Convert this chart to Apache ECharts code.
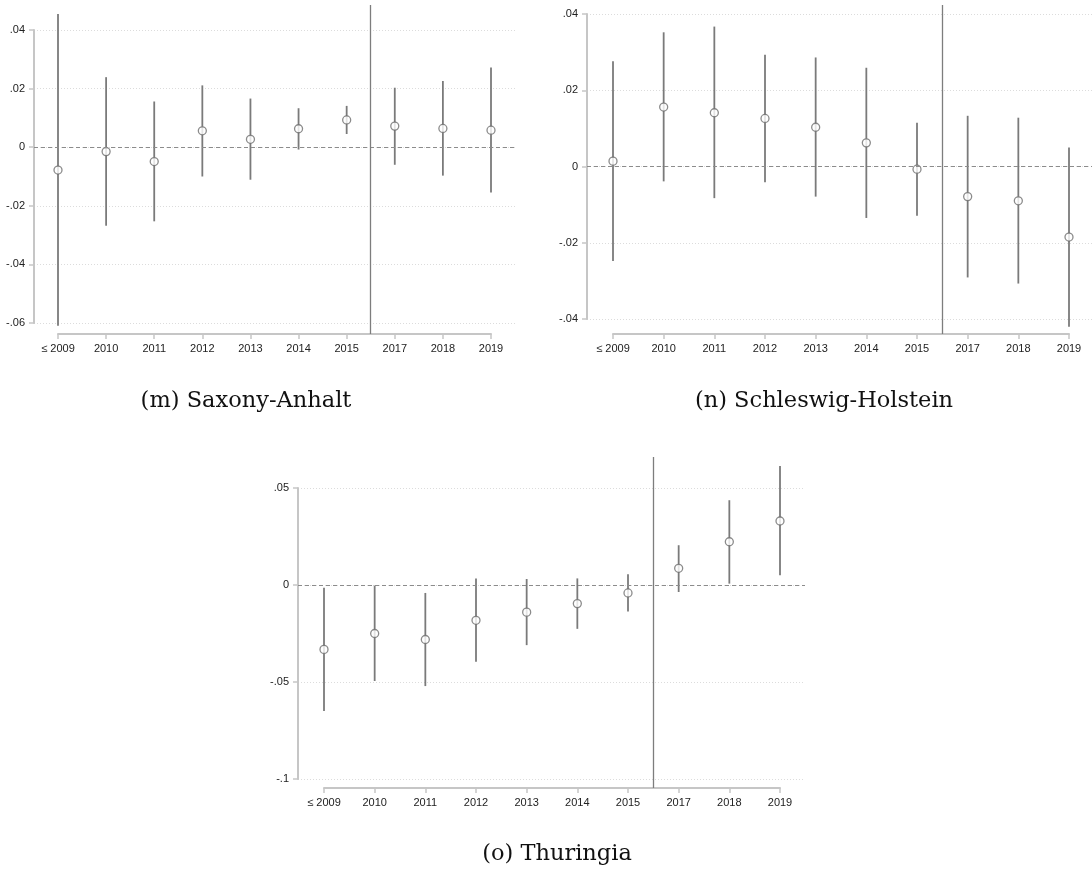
<!DOCTYPE html>
<html>
<head>
<meta charset="utf-8">
<script src="https://cdn.jsdelivr.net/npm/echarts@6/dist/echarts.min.js"></script>
<style>
  html, body { margin: 0; padding: 0; background: #fff; }
  #chart { width: 1092px; height: 870px; }
</style>
</head>
<body>
<div id="chart"></div>
<script>
// categories (2016 is the reference year, left out)
var categories = ['≤ 2009', '2010', '2011', '2012', '2013', '2014', '2015', '2017', '2018', '2019'];

// (m) Saxony-Anhalt
var saxEst = [-0.0078, -0.0015, -0.0049, 0.0056, 0.0027, 0.0063, 0.0093, 0.0072, 0.0064, 0.0058];
var saxLo  = [-0.0609, -0.0268, -0.0253, -0.0100, -0.0111, -0.0008, 0.0045, -0.0060, -0.0097, -0.0155];
var saxHi  = [0.0455, 0.0239, 0.0156, 0.0211, 0.0166, 0.0133, 0.0141, 0.0203, 0.0226, 0.0272];
var saxTicks = [-0.06, 0.04, 0.02]; // min, max, step

// (n) Schleswig-Holstein
var shEst = [0.0014, 0.0156, 0.0141, 0.0126, 0.0103, 0.0062, -0.0007, -0.0079, -0.0090, -0.0185];
var shLo  = [-0.0248, -0.0039, -0.0083, -0.0041, -0.0079, -0.0135, -0.0129, -0.0291, -0.0307, -0.0420];
var shHi  = [0.0276, 0.0352, 0.0367, 0.0293, 0.0286, 0.0259, 0.0115, 0.0133, 0.0128, 0.0050];
var shTicks = [-0.04, 0.04, 0.02];

// (o) Thuringia
var thEst = [-0.0332, -0.0250, -0.0281, -0.0182, -0.0140, -0.0096, -0.0041, 0.0086, 0.0223, 0.0330];
var thLo  = [-0.0649, -0.0495, -0.0521, -0.0396, -0.0310, -0.0226, -0.0137, -0.0036, 0.0007, 0.0050];
var thHi  = [-0.0014, -0.0003, -0.0041, 0.0033, 0.0031, 0.0034, 0.0055, 0.0205, 0.0437, 0.0613];
var thTicks = [-0.1, 0.05, 0.05];

var refLine = 6.5; // between 2015 and 2017

// pixel layout of each panel
var panels = [
  { title: '(m) Saxony-Anhalt', est: saxEst, lo: saxLo, hi: saxHi, ticks: saxTicks,
    axisLeft: 34, catFirst: 58, catLast: 491, right: 517, top: 5, axisY: 334, tickTopY: 30, tickBotY: 323,
    capX: 246, capY: 401 },
  { title: '(n) Schleswig-Holstein', est: shEst, lo: shLo, hi: shHi, ticks: shTicks,
    axisLeft: 587, catFirst: 613, catLast: 1069, right: 1094, top: 5, axisY: 334, tickTopY: 14, tickBotY: 319,
    capX: 824, capY: 401 },
  { title: '(o) Thuringia', est: thEst, lo: thLo, hi: thHi, ticks: thTicks,
    axisLeft: 298, catFirst: 324, catLast: 780, right: 805, top: 457, axisY: 788, tickTopY: 488, tickBotY: 779,
    capX: 557, capY: 854 }
];

var axisGray = '#c6c6c6';
var barGray = '#7a7a7a';
var labelFont = 'Liberation Sans';

function stataLabel(v) {
  if (Math.abs(v) < 1e-9) return '0';
  return String(parseFloat(v.toFixed(4))).replace('0.', '.');
}

var grids = [], xAxes = [], yAxes = [], series = [], graphics = [];

panels.forEach(function (p, k) {
  var lo = p.ticks[0], hi = p.ticks[1], step = p.ticks[2];
  var pxPerUnit = (p.tickBotY - p.tickTopY) / (hi - lo);
  var yMax = hi + (p.tickTopY - p.top) / pxPerUnit;
  var yMin = lo - (p.axisY - p.tickBotY) / pxPerUnit;

  // grid for the y axis and its gridlines
  var gy = grids.length;
  grids.push({ left: p.axisLeft, top: p.tickTopY, width: p.right - p.axisLeft,
    height: p.tickBotY - p.tickTopY, outerBoundsMode: 'none' });
  xAxes.push({ gridIndex: gy, type: 'value', min: 0, max: 1, show: false });
  yAxes.push({
    gridIndex: gy, type: 'value', min: lo, max: hi, interval: step,
    axisLine: { show: true, onZero: false, lineStyle: { color: axisGray, width: 2 } },
    axisTick: { show: true, length: 5, lineStyle: { color: axisGray, width: 1.5 } },
    axisLabel: { margin: 9, color: '#222', fontSize: 11, fontFamily: labelFont, formatter: stataLabel },
    splitLine: { show: true, lineStyle: { color: '#dcdcdc', width: 1, type: [1, 2] } }
  });
  series.push({
    type: 'line', xAxisIndex: xAxes.length - 1, yAxisIndex: yAxes.length - 1, data: [],
    markLine: { silent: true, symbol: 'none', label: { show: false },
      lineStyle: { color: '#8c8c8c', width: 1.2, type: [4, 3] },
      data: [{ yAxis: 0 }] }
  });

  // grid for the estimates
  var gd = grids.length;
  grids.push({ left: p.catFirst, top: p.top, width: p.catLast - p.catFirst,
    height: p.axisY - p.top, outerBoundsMode: 'none' });
  xAxes.push({
    gridIndex: gd, type: 'value', min: 0, max: categories.length - 1, interval: 1,
    axisLine: { show: true, onZero: false, lineStyle: { color: axisGray, width: 2 } },
    axisTick: { show: true, length: 5, lineStyle: { color: axisGray, width: 1.5 } },
    axisLabel: { margin: 9, color: '#222', fontSize: 11, fontFamily: labelFont,
      formatter: function (v) { return categories[v]; } },
    splitLine: { show: false }
  });
  yAxes.push({ gridIndex: gd, type: 'value', min: yMin, max: yMax, show: false });
  var xi = xAxes.length - 1, yi = yAxes.length - 1;

  var ci = categories.map(function (c, i) { return [i, p.lo[i], p.hi[i]]; });
  series.push({
    type: 'custom', xAxisIndex: xi, yAxisIndex: yi, data: ci, z: 2,
    renderItem: function (params, api) {
      var a = api.coord([api.value(0), api.value(1)]);
      var b = api.coord([api.value(0), api.value(2)]);
      return { type: 'line', shape: { x1: a[0], y1: a[1], x2: b[0], y2: b[1] },
        style: { stroke: barGray, lineWidth: 1.8 } };
    },
    markLine: { silent: true, symbol: 'none', label: { show: false },
      lineStyle: { color: '#7d7d7d', width: 1.3, type: 'solid' },
      data: [{ xAxis: refLine }] }
  });
  series.push({
    type: 'scatter', xAxisIndex: xi, yAxisIndex: yi, z: 3,
    data: p.est.map(function (v, i) { return [i, v]; }),
    symbol: 'circle', symbolSize: 8,
    itemStyle: { color: '#fff', borderColor: '#6e6e6e', borderWidth: 1.3 }
  });

  graphics.push({ type: 'text', x: p.capX, y: p.capY,
    style: { text: p.title, fill: '#111', font: '22.5px "DejaVu Serif"',
      textAlign: 'center', textVerticalAlign: 'middle' } });
});

var chart = echarts.init(document.getElementById('chart'));
chart.setOption({
  backgroundColor: '#fff',
  animation: false,
  grid: grids,
  xAxis: xAxes,
  yAxis: yAxes,
  series: series,
  graphic: graphics
});
</script>
</body>
</html>
